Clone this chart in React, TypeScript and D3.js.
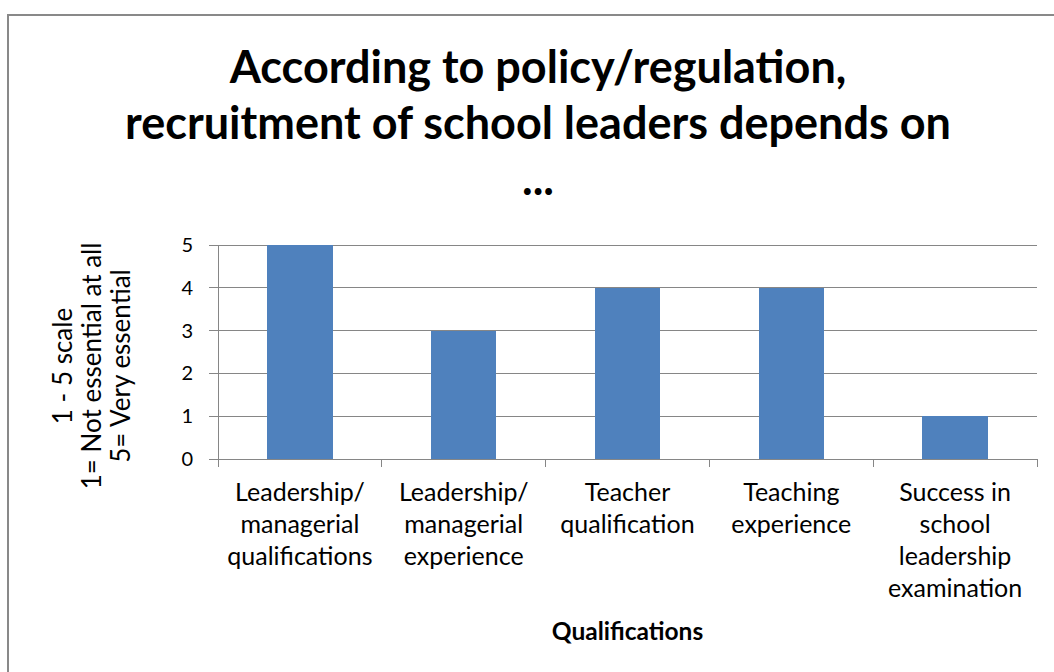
import React from "react";
import * as d3 from "d3";

const titleLines = ["According to policy/regulation,", "recruitment of school leaders depends on", "..."];
const categories = [
  "Leadership/ managerial qualifications",
  "Leadership/ managerial experience",
  "Teacher qualification",
  "Teaching experience",
  "Success in school leadership examination",
];
const categoryLines = [
  ["Leadership/", "managerial", "qualifications"],
  ["Leadership/", "managerial", "experience"],
  ["Teacher", "qualification"],
  ["Teaching", "experience"],
  ["Success in", "school", "leadership", "examination"],
];
const values = [5, 3, 4, 4, 1];
const yTicks = [0, 1, 2, 3, 4, 5];
const yTitleLines = ["1 - 5 scale", "1= Not essential at all", "5= Very essential"];
const xTitle = "Qualifications";

const W = 1054;
const H = 672;
const plot = { left: 218, right: 1037, top: 245, bottom: 459 };
const FONT = "Lato, 'Open Sans', sans-serif";
const GRID = "#868686";
const BAR = "#4F81BD";

export default function App() {
  const x = d3
    .scaleBand<string>()
    .domain(categories)
    .range([plot.left, plot.right])
    .paddingInner(0.6)
    .paddingOuter(0.3);
  const y = d3.scaleLinear().domain([0, 5]).range([plot.bottom, plot.top]);
  const step = x.step();
  const boundaries = d3.range(categories.length + 1).map((i) => plot.left + i * step);
  const cx = (plot.left + plot.right) / 2;
  const yTitleCenter = 366;
  const yTitleX = [72, 101, 130];

  return (
    <svg
      width={W}
      height={H}
      style={{ position: "absolute", left: 0, top: 0, background: "#fff" }}
      fontFamily={FONT}
    >
      <rect x={0} y={0} width={W} height={H} fill="#fff" />
      <rect x={8} y={15} width={1100} height={720} fill="none" stroke="#898989" strokeWidth={2} />

      {titleLines.map((t, i) => (
        <text
          key={i}
          x={538}
          y={83 + i * 56}
          textAnchor="middle"
          fontSize={45}
          fontWeight="bold"
          fill="#000"
        >
          {t}
        </text>
      ))}

      {/* gridlines + y ticks */}
      {yTicks.map((t) => (
        <g key={t}>
          <line x1={plot.left - 9} x2={plot.right} y1={y(t)} y2={y(t)} stroke={GRID} strokeWidth={1} shapeRendering="crispEdges" />
          <text x={193} y={y(t) + 7} textAnchor="end" fontSize={20} fill="#000">
            {t}
          </text>
        </g>
      ))}

      {/* bars */}
      {categories.map((c, i) => (
        <rect
          key={c}
          x={x(c)}
          y={y(values[i])}
          width={x.bandwidth()}
          height={y(0) - y(values[i])}
          fill={BAR}
          shapeRendering="crispEdges"
        />
      ))}

      {/* axes */}
      <line x1={plot.left} x2={plot.left} y1={plot.top} y2={plot.bottom} stroke={GRID} strokeWidth={1} shapeRendering="crispEdges" />
      <line x1={plot.left - 9} x2={plot.right} y1={plot.bottom} y2={plot.bottom} stroke={GRID} strokeWidth={1} shapeRendering="crispEdges" />
      {boundaries.map((b, i) => (
        <line key={i} x1={b} x2={b} y1={plot.bottom} y2={plot.bottom + 8} stroke={GRID} strokeWidth={1} shapeRendering="crispEdges" />
      ))}

      {/* category labels */}
      {categories.map((c, i) => (
        <text key={c} textAnchor="middle" fontSize={25} fill="#000">
          {categoryLines[i].map((ln, j) => (
            <tspan key={j} x={(x(c) as number) + x.bandwidth() / 2} y={501 + j * 32}>
              {ln}
            </tspan>
          ))}
        </text>
      ))}

      {/* y title */}
      {yTitleLines.map((ln, i) => (
        <text
          key={i}
          transform={`translate(${yTitleX[i]},${yTitleCenter}) rotate(-90)`}
          textAnchor="middle"
          fontSize={26}
          fill="#000"
        >
          {ln}
        </text>
      ))}

      {/* x title */}
      <text x={cx} y={640} textAnchor="middle" fontSize={24.5} fontWeight="bold" fill="#000">
        {xTitle}
      </text>
    </svg>
  );
}
